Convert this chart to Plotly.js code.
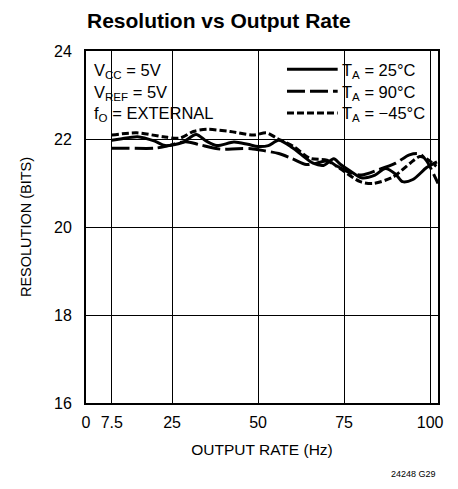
<!DOCTYPE html>
<html>
<head>
<meta charset="utf-8">
<script src="https://cdn.plot.ly/plotly-3.0.1.min.js"></script>
<style>html,body{margin:0;padding:0;background:#fff}#chart{width:458px;height:489px}</style>
</head>
<body>
<div id="chart"></div>
<script>
// Data (output rate in Hz, resolution in bits)
var rate25 = [7.5, 10, 15, 20, 23, 28, 32, 35, 38, 43, 47, 50, 53, 56, 60, 63, 66, 69, 72, 74, 77, 80, 84, 87, 90, 92, 95, 99, 102];
var res25  = [21.97, 22.0, 22.05, 21.95, 21.85, 21.92, 22.1, 21.95, 21.85, 21.93, 21.88, 21.83, 21.85, 21.97, 21.8, 21.62, 21.45, 21.4, 21.55, 21.42, 21.26, 21.12, 21.18, 21.33, 21.2, 21.03, 21.08, 21.35, 21.48];

var rate90 = [7.5, 12, 20, 24, 29, 33, 39, 44, 48, 52, 56, 60, 64, 67, 70, 73, 76, 80, 85, 90, 94, 97, 99, 102.3];
var res90  = [21.79, 21.79, 21.79, 21.85, 21.94, 21.87, 21.77, 21.78, 21.78, 21.73, 21.67, 21.55, 21.42, 21.45, 21.5, 21.38, 21.26, 21.18, 21.3, 21.45, 21.64, 21.66, 21.5, 20.99];

var rateM45 = [7.5, 14.7, 22.5, 27.3, 31.2, 35.1, 41.9, 48.6, 52.5, 55.4, 60.3, 65.1, 70, 73.8, 79.7, 83.5, 89.3, 94.2, 97, 99, 101.8];
var resM45  = [22.09, 22.14, 22.05, 22.02, 22.17, 22.22, 22.17, 22.09, 22.14, 22.02, 21.83, 21.56, 21.52, 21.33, 21.03, 20.99, 21.14, 21.45, 21.6, 21.55, 21.38];

var xTickVals = [0, 7.5, 25, 50, 75, 100];
var xTickText = ['0', '7.5', '25', '50', '75', '100'];
var yTickVals = [16, 18, 20, 22, 24];
var seriesNames = ['T<sub>A</sub> = 25°C', 'T<sub>A</sub> = 90°C', 'T<sub>A</sub> = −45°C'];
var conditionLines = ['V<sub>CC</sub> = 5V', 'V<sub>REF</sub> = 5V', 'f<sub>O</sub> = EXTERNAL'];

var FONT = 'Liberation Sans, Arial, Helvetica, sans-serif';
var dashes = ['solid', '18px,5px', '7px,3px'];

var traces = [
  {x: rate25, y: res25, name: seriesNames[0], mode: 'lines',
   line: {color: '#000', width: 3, dash: dashes[0], shape: 'spline', smoothing: 0.8}},
  {x: rate90, y: res90, name: seriesNames[1], mode: 'lines',
   line: {color: '#000', width: 3, dash: dashes[1], shape: 'spline', smoothing: 0.8}},
  {x: rateM45, y: resM45, name: seriesNames[2], mode: 'lines',
   line: {color: '#000', width: 3, dash: dashes[2], shape: 'spline', smoothing: 0.8}}
];

// Key / condition-text layout (paper coordinates)
var rowY = [0.948, 0.886, 0.824];
var shapes = [
  // white boxes behind the condition text and the key (they hide the grid there)
  {type: 'rect', xref: 'paper', yref: 'paper', x0: 0.006, x1: 0.37, y0: 0.78, y1: 0.986,
   fillcolor: '#fff', line: {width: 0}, layer: 'between'},
  {type: 'rect', xref: 'paper', yref: 'paper', x0: 0.56, x1: 0.994, y0: 0.78, y1: 0.986,
   fillcolor: '#fff', line: {width: 0}, layer: 'between'}
];
var annotations = [];
for (var i = 0; i < 3; i++) {
  shapes.push({type: 'line', xref: 'paper', yref: 'paper', x0: 0.571, x1: 0.715,
    y0: rowY[i], y1: rowY[i], line: {color: '#000', width: 3, dash: dashes[i]}, layer: 'above'});
  annotations.push({xref: 'paper', yref: 'paper', x: 0.722, y: rowY[i] - 0.004, xanchor: 'left', yanchor: 'middle',
    text: seriesNames[i], showarrow: false, font: {family: FONT, size: 16.5, color: '#000'}});
  annotations.push({xref: 'paper', yref: 'paper', x: 0.018, y: rowY[i] - 0.004, xanchor: 'left', yanchor: 'middle',
    text: conditionLines[i], showarrow: false, font: {family: FONT, size: 16.5, color: '#000'}});
}
annotations.push({xref: 'paper', yref: 'paper', x: 1, y: -0.2017, xanchor: 'right', yanchor: 'middle',
  text: '24248 G29', showarrow: false, font: {family: FONT, size: 9, color: '#000'}});

var layout = {
  width: 458, height: 489,
  margin: {l: 86, r: 20, t: 51, b: 86},
  paper_bgcolor: '#fff', plot_bgcolor: '#fff',
  font: {family: FONT, size: 15, color: '#000'},
  title: {text: '<b>Resolution vs Output Rate</b>', font: {family: FONT, size: 21, color: '#000'},
          x: 0.19, xanchor: 'left', y: 0.958, yanchor: 'middle'},
  showlegend: false,
  xaxis: {range: [0, 102.3], tickmode: 'array', tickvals: xTickVals, ticktext: xTickText,
          showgrid: true, gridcolor: '#000', gridwidth: 1, zeroline: false,
          showline: true, linecolor: '#000', linewidth: 2, mirror: true,
          ticks: '', ticklen: 0, ticklabelstandoff: 4, tickfont: {family: FONT, size: 16, color: '#000'},
          title: {text: 'OUTPUT RATE (Hz)', font: {family: FONT, size: 15.5, color: '#000'}, standoff: 14}},
  yaxis: {range: [16, 24], tickmode: 'array', tickvals: yTickVals,
          showgrid: true, gridcolor: '#000', gridwidth: 1, zeroline: false,
          showline: true, linecolor: '#000', linewidth: 2, mirror: true,
          ticks: '', ticklen: 0, ticklabelstandoff: 9, tickfont: {family: FONT, size: 16, color: '#000'},
          title: {text: 'RESOLUTION (BITS)', font: {family: FONT, size: 14.5, color: '#000'}, standoff: 19}},
  shapes: shapes,
  annotations: annotations
};

Plotly.newPlot('chart', traces, layout, {displayModeBar: false, staticPlot: true});
</script>
</body>
</html>
